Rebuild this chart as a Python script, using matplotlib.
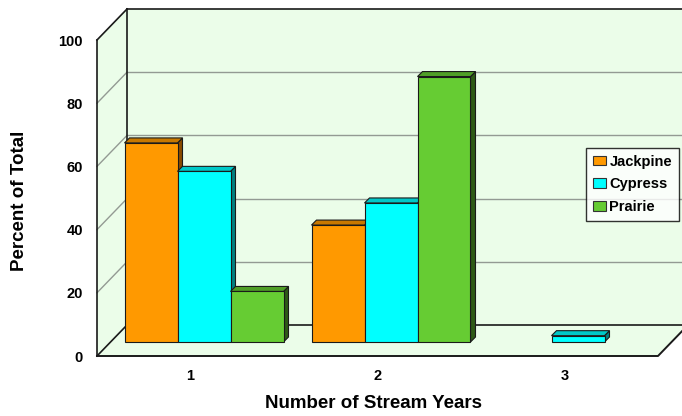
import numpy as np
import matplotlib.pyplot as plt
from matplotlib.patches import Polygon, Patch

# data
categories = ['1', '2', '3']
series = ['Jackpine', 'Cypress', 'Prairie']
jackpine = [63, 37, 0]
cypress = [54, 44, 2]
prairie = [16, 84, 0]
values = [jackpine, cypress, prairie]

front_cols = ['#FF9900', '#00FFFF', '#66CC33']
top_cols = ['#C87800', '#00C8C8', '#4F9E27']
side_cols = ['#8A4A00', '#008080', '#2E5A16']
wall_col = '#EBFDE9'
y_ticks = [0, 20, 40, 60, 80, 100]

plt.rcParams['font.family'] = ['Liberation Sans', 'DejaVu Sans']
plt.rcParams['font.weight'] = 'bold'

fig = plt.figure(figsize=(6.82, 4.16), dpi=100)
W, H = 682, 416
ax = fig.add_axes([97 / W, 60 / H, 561 / W, 316 / H])
ax.set_xlim(0.5, 3.5)
ax.set_ylim(0, 100)
for s in ax.spines.values():
    s.set_visible(False)
ax.set_facecolor('none')

# pixel -> data unit scale
p0 = ax.transData.transform((0, 0))
px = 1.0 / (ax.transData.transform((1, 0)) - p0)[0]
py = 1.0 / (ax.transData.transform((0, 1)) - p0)[1]


def off(x, y, dx, dy):
    return (x + dx * px, y + dy * py)


D = (30, 31)        # full depth
BF = (13.5, 14)     # bar front plane
BB = (18.5, 19)     # bar back plane

x0, x1 = ax.get_xlim()

# walls
back = [off(x0, 0, *D), off(x1 + 1, 0, *D), off(x1 + 1, 100, *D), off(x0, 100, *D)]
left = [(x0, 0), off(x0, 0, *D), off(x0, 100, *D), (x0, 100)]
floor = [(x0, 0), (x1, 0), off(x1, 0, *D), off(x0, 0, *D)]
for poly in (back, left, floor):
    ax.add_patch(Polygon(poly, closed=True, fc=wall_col, ec='none', zorder=1, clip_on=False))

# gridlines
for t in y_ticks[1:-1]:
    a, b = off(x0, t, *D), off(x1 + 1, t, *D)
    ax.plot([a[0], b[0]], [a[1], b[1]], color='#939A93', lw=1.0, zorder=2, clip_on=False)
    c = off(x0, t, *D)
    ax.plot([x0, c[0]], [t, c[1]], color='#939A93', lw=1.0, zorder=2, clip_on=False)

# wall outlines
edge = dict(color='#1A1A1A', lw=1.2, zorder=2, clip_on=False)
a, b = off(x0, 100, *D), off(x1 + 1, 100, *D)
ax.plot([a[0], b[0]], [a[1], b[1]], **edge)
a, b = off(x0, 0, *D), off(x0, 100, *D)
ax.plot([a[0], b[0]], [a[1], b[1]], **edge)
a, b = off(x0, 0, *D), off(x1 + 1, 0, *D)
ax.plot([a[0], b[0]], [a[1], b[1]], **edge)
a = off(x0, 100, *D)
ax.plot([x0, a[0]], [100, a[1]], **edge)
a = off(x0, 0, *D)
ax.plot([x0, a[0]], [0, a[1]], **edge)

# bars
bw = 53 * px
n = len(series)
for ci in range(len(categories)):
    for si in range(n):
        v = values[si][ci]
        if v == 0:
            continue
        xc = ci + 1 + (si - (n - 1) / 2) * bw
        xl, xr = xc - bw / 2, xc + bw / 2
        z = 3 + ci * 3 + si * 0.1
        side = [off(xr, 0, *BF), off(xr, v, *BF), off(xr, v, *BB), off(xr, 0, *BB)]
        top = [off(xl, v, *BF), off(xr, v, *BF), off(xr, v, *BB), off(xl, v, *BB)]
        ax.add_patch(Polygon(side, closed=True, fc=side_cols[si], ec='#1A1A1A', lw=0.8, zorder=z, clip_on=False))
        ax.add_patch(Polygon(top, closed=True, fc=top_cols[si], ec='#1A1A1A', lw=0.8, zorder=z, clip_on=False))
        fx, fy = off(xl, 0, *BF)
        ax.bar(fx, v, width=bw, bottom=fy, align='edge', color=front_cols[si],
               edgecolor='#1A1A1A', lw=0.8, zorder=z + 0.05, clip_on=False)

# front floor edges
a = off(x1, 0, *D)
ax.plot([x0, x1, a[0]], [0, 0, a[1]], color='#1A1A1A', lw=1.4, zorder=20, clip_on=False)
ax.plot([x0, x0], [0, 100], color='#1A1A1A', lw=1.2, zorder=20, clip_on=False)

# ticks
ax.set_yticks(y_ticks)
ax.set_yticklabels([str(t) for t in y_ticks], fontsize=10.5, fontweight='bold')
ax.set_xticks(range(1, len(categories) + 1))
ax.set_xticklabels(categories, fontsize=10.5, fontweight='bold')
ax.tick_params(axis='y', length=0, pad=10)
ax.tick_params(axis='x', length=0, pad=9.5)

fig.text(20 / W, 1 - 201 / H, 'Percent of Total', rotation=90, ha='center', va='center',
         fontsize=13.5, fontweight='bold')
fig.text(374 / W, 1 - 403 / H, 'Number of Stream Years', ha='center', va='center',
         fontsize=13.5, fontweight='bold')

handles = [Patch(fc=c, ec='#333333', lw=0.8) for c in front_cols]
leg = fig.legend(handles, series, loc='upper left', bbox_to_anchor=(586 / W, 1 - 148 / H),
                 frameon=True, fancybox=False, shadow=False, borderpad=0.45,
                 handlelength=0.95, handleheight=0.65, handletextpad=0.2,
                 labelspacing=0.6, borderaxespad=0, prop={'weight': 'bold', 'size': 10.5})
leg.get_frame().set_edgecolor('black')
leg.get_frame().set_linewidth(1.0)
leg.set_zorder(30)

fig.savefig('out.png', dpi=100)
